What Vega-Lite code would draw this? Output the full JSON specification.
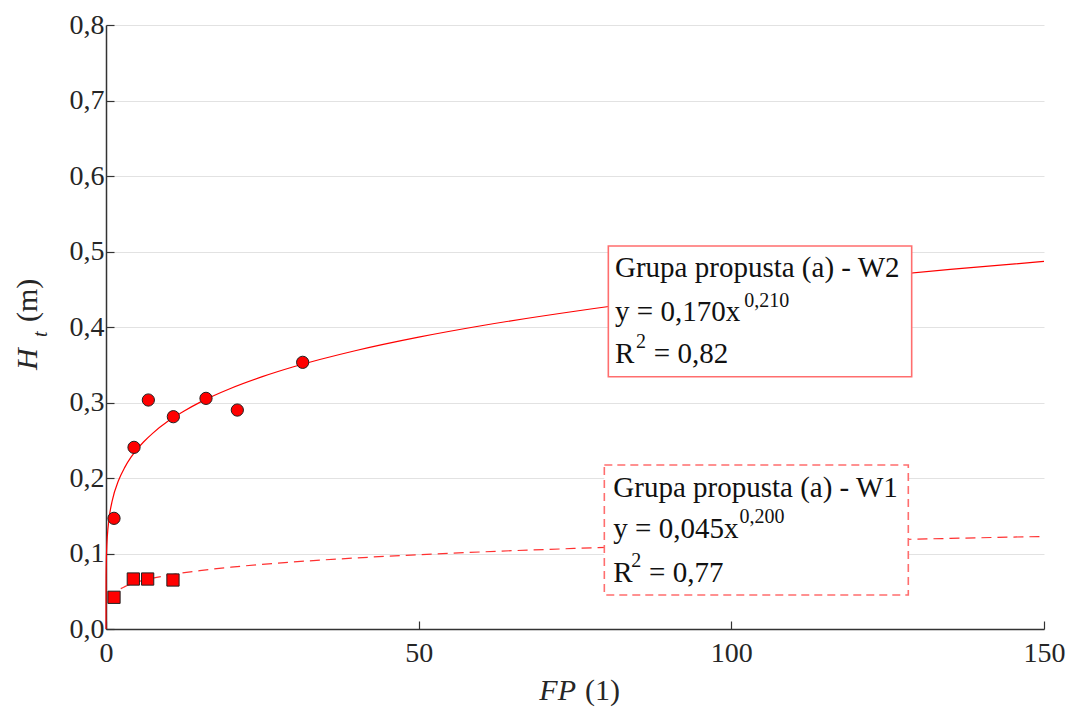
{
  "$schema": "https://vega.github.io/schema/vega-lite/v6.json",
  "autosize": {"type": "none"},
  "padding": {"left": 106, "top": 25, "right": 23, "bottom": 78},
  "width": 938,
  "height": 604,
  "background": "white",
  "config": {
    "view": {"stroke": null},
    "font": "Liberation Serif, Times New Roman, serif",
    "text": {"font": "Liberation Serif, Times New Roman, serif"},
    "axis": {
      "labelFont": "Liberation Serif, Times New Roman, serif",
      "labelFontSize": 28,
      "labelColor": "#262626",
      "labelFlush": false,
      "domainColor": "#333333",
      "domainWidth": 1.5,
      "tickColor": "#333333",
      "tickWidth": 1.2,
      "tickSize": -8,
      "title": null
    }
  },
  "datasets": {
    "points": [
      {"FP": 1.28, "H": 0.1466, "series": "W2"},
      {"FP": 4.48, "H": 0.2406, "series": "W2"},
      {"FP": 6.77, "H": 0.3033, "series": "W2"},
      {"FP": 10.77, "H": 0.2812, "series": "W2"},
      {"FP": 15.99, "H": 0.3055, "series": "W2"},
      {"FP": 21.0, "H": 0.290, "series": "W2"},
      {"FP": 31.45, "H": 0.3532, "series": "W2"},
      {"FP": 1.28, "H": 0.042, "series": "W1"},
      {"FP": 4.37, "H": 0.0662, "series": "W1"},
      {"FP": 6.66, "H": 0.0662, "series": "W1"},
      {"FP": 10.71, "H": 0.0649, "series": "W1"}
    ],
    "fits": [
      {"FP": 0, "H": 0, "series": "W2"},
      {"FP": 0.001, "H": 0.0398, "series": "W2"},
      {"FP": 0.01, "H": 0.0646, "series": "W2"},
      {"FP": 0.05, "H": 0.0906, "series": "W2"},
      {"FP": 0.1, "H": 0.1048, "series": "W2"},
      {"FP": 0.2, "H": 0.1212, "series": "W2"},
      {"FP": 0.5, "H": 0.1470, "series": "W2"},
      {"FP": 1, "H": 0.1700, "series": "W2"},
      {"FP": 2, "H": 0.1966, "series": "W2"},
      {"FP": 3, "H": 0.2141, "series": "W2"},
      {"FP": 4, "H": 0.2276, "series": "W2"},
      {"FP": 5, "H": 0.2384, "series": "W2"},
      {"FP": 6, "H": 0.2477, "series": "W2"},
      {"FP": 7.5, "H": 0.2595, "series": "W2"},
      {"FP": 10, "H": 0.2757, "series": "W2"},
      {"FP": 12.5, "H": 0.2888, "series": "W2"},
      {"FP": 15, "H": 0.3002, "series": "W2"},
      {"FP": 20, "H": 0.3189, "series": "W2"},
      {"FP": 25, "H": 0.3342, "series": "W2"},
      {"FP": 30, "H": 0.3473, "series": "W2"},
      {"FP": 40, "H": 0.3689, "series": "W2"},
      {"FP": 50, "H": 0.3866, "series": "W2"},
      {"FP": 60, "H": 0.4017, "series": "W2"},
      {"FP": 75, "H": 0.4209, "series": "W2"},
      {"FP": 90, "H": 0.4374, "series": "W2"},
      {"FP": 105, "H": 0.4517, "series": "W2"},
      {"FP": 120, "H": 0.4646, "series": "W2"},
      {"FP": 135, "H": 0.4762, "series": "W2"},
      {"FP": 150, "H": 0.4869, "series": "W2"},
      {"FP": 0.5, "H": 0.0392, "series": "W1"},
      {"FP": 1, "H": 0.0450, "series": "W1"},
      {"FP": 2, "H": 0.0517, "series": "W1"},
      {"FP": 3, "H": 0.0561, "series": "W1"},
      {"FP": 5, "H": 0.0621, "series": "W1"},
      {"FP": 7.5, "H": 0.0673, "series": "W1"},
      {"FP": 10, "H": 0.0713, "series": "W1"},
      {"FP": 15, "H": 0.0773, "series": "W1"},
      {"FP": 20, "H": 0.0819, "series": "W1"},
      {"FP": 30, "H": 0.0888, "series": "W1"},
      {"FP": 40, "H": 0.0941, "series": "W1"},
      {"FP": 50, "H": 0.0984, "series": "W1"},
      {"FP": 60, "H": 0.1021, "series": "W1"},
      {"FP": 75, "H": 0.1067, "series": "W1"},
      {"FP": 90, "H": 0.1107, "series": "W1"},
      {"FP": 105, "H": 0.1141, "series": "W1"},
      {"FP": 120, "H": 0.1172, "series": "W1"},
      {"FP": 135, "H": 0.1200, "series": "W1"},
      {"FP": 150, "H": 0.1226, "series": "W1"}
    ],
    "boxes": [
      {"x": 80.33, "x2": 128.84, "y": 0.5073, "y2": 0.3342, "series": "W2"},
      {"x": 79.69, "x2": 128.30, "y": 0.2172, "y2": 0.0450, "series": "W1"}
    ],
    "notes": [
      {"x": 81.40, "y": 0.4662, "text": "Grupa propusta (a) - W2", "role": "main"},
      {"x": 81.40, "y": 0.4079, "text": "y = 0,170x", "role": "main"},
      {"x": 81.40, "y": 0.3523, "text": "R", "role": "main"},
      {"x": 87.60, "y": 0.3523, "text": "= 0,82", "role": "main"},
      {"x": 81.13, "y": 0.1752, "text": "Grupa propusta (a) - W1", "role": "main"},
      {"x": 81.13, "y": 0.1205, "text": "y = 0,045x", "role": "main"},
      {"x": 81.13, "y": 0.0626, "text": "R", "role": "main"},
      {"x": 86.85, "y": 0.0626, "text": "= 0,77", "role": "main"},
      {"x": 102.05, "y": 0.4265, "text": "0,210", "role": "sup"},
      {"x": 84.75, "y": 0.3722, "text": "2", "role": "sup"},
      {"x": 101.30, "y": 0.1404, "text": "0,200", "role": "sup"},
      {"x": 84.00, "y": 0.0825, "text": "2", "role": "sup"}
    ],
    "titles": [
      {"x": 75.16, "y": -0.094, "text": "FP", "role": "xital"},
      {"x": 76.61, "y": -0.094, "text": "(1)", "role": "xnorm"},
      {"x": -11.03, "y": 0.343, "text": "H", "role": "yital"},
      {"x": -9.43, "y": 0.3868, "text": "t", "role": "ysub"},
      {"x": -11.03, "y": 0.4066, "text": "(m)", "role": "ynorm"}
    ]
  },
  "layer": [
    {
      "data": {"name": "fits"},
      "transform": [{"filter": "datum.series === 'W2'"}],
      "mark": {"type": "line", "color": "#ff0000", "strokeWidth": 1.2, "interpolate": "monotone"},
      "encoding": {
        "x": {"field": "FP", "type": "quantitative", "scale": {"domain": [0, 150], "nice": false},
          "axis": {"values": [0, 50, 100, 150], "grid": false, "labelPadding": 18}},
        "y": {"field": "H", "type": "quantitative", "scale": {"domain": [0, 0.8], "nice": false},
          "axis": {"values": [0, 0.1, 0.2, 0.3, 0.4, 0.5, 0.6, 0.7, 0.8], "grid": true, "gridColor": "#e2e2e2", "gridWidth": 1,
            "labelPadding": 10, "labelExpr": "replace(format(datum.value, '.1f'), '.', ',')"}},
        "order": {"field": "FP", "type": "quantitative"}
      }
    },
    {
      "data": {"name": "fits"},
      "transform": [{"filter": "datum.series === 'W1'"}],
      "mark": {"type": "line", "color": "#ff3030", "strokeWidth": 1.2, "strokeDash": [10, 6], "interpolate": "monotone"},
      "encoding": {
        "x": {"field": "FP", "type": "quantitative"},
        "y": {"field": "H", "type": "quantitative"},
        "order": {"field": "FP", "type": "quantitative"}
      }
    },
    {
      "data": {"name": "points"},
      "transform": [{"filter": "datum.series === 'W2'"}],
      "mark": {"type": "point", "shape": "circle", "filled": true, "fill": "#ff0000", "stroke": "#222222", "strokeWidth": 1, "opacity": 1, "size": 150},
      "encoding": {
        "x": {"field": "FP", "type": "quantitative"},
        "y": {"field": "H", "type": "quantitative"}
      }
    },
    {
      "data": {"name": "points"},
      "transform": [{"filter": "datum.series === 'W1'"}],
      "mark": {"type": "point", "shape": "square", "filled": true, "fill": "#ff0000", "stroke": "#222222", "strokeWidth": 1, "opacity": 1, "size": 150},
      "encoding": {
        "x": {"field": "FP", "type": "quantitative"},
        "y": {"field": "H", "type": "quantitative"}
      }
    },
    {
      "data": {"name": "boxes"},
      "transform": [{"filter": "datum.series === 'W2'"}],
      "mark": {"type": "rect", "fill": "white", "stroke": "#ff6e6e", "strokeWidth": 1.6},
      "encoding": {
        "x": {"field": "x", "type": "quantitative"},
        "x2": {"field": "x2"},
        "y": {"field": "y", "type": "quantitative"},
        "y2": {"field": "y2"}
      }
    },
    {
      "data": {"name": "boxes"},
      "transform": [{"filter": "datum.series === 'W1'"}],
      "mark": {"type": "rect", "fill": "white", "stroke": "#ff6e6e", "strokeWidth": 1.6, "strokeDash": [8, 5]},
      "encoding": {
        "x": {"field": "x", "type": "quantitative"},
        "x2": {"field": "x2"},
        "y": {"field": "y", "type": "quantitative"},
        "y2": {"field": "y2"}
      }
    },
    {
      "data": {"name": "notes"},
      "transform": [{"filter": "datum.role === 'main'"}],
      "mark": {"type": "text", "align": "left", "baseline": "alphabetic", "font": "Liberation Serif, Times New Roman, serif", "fontSize": 29, "color": "#111111"},
      "encoding": {
        "x": {"field": "x", "type": "quantitative"},
        "y": {"field": "y", "type": "quantitative"},
        "text": {"field": "text"}
      }
    },
    {
      "data": {"name": "notes"},
      "transform": [{"filter": "datum.role === 'sup'"}],
      "mark": {"type": "text", "align": "left", "baseline": "alphabetic", "font": "Liberation Serif, Times New Roman, serif", "fontSize": 20, "color": "#111111"},
      "encoding": {
        "x": {"field": "x", "type": "quantitative"},
        "y": {"field": "y", "type": "quantitative"},
        "text": {"field": "text"}
      }
    },
    {
      "data": {"name": "titles"},
      "transform": [{"filter": "datum.role === 'xital'"}],
      "mark": {"type": "text", "align": "right", "baseline": "alphabetic", "font": "Liberation Serif, Times New Roman, serif", "fontStyle": "italic", "fontSize": 30, "color": "#262626"},
      "encoding": {
        "x": {"field": "x", "type": "quantitative"},
        "y": {"field": "y", "type": "quantitative"},
        "text": {"field": "text"}
      }
    },
    {
      "data": {"name": "titles"},
      "transform": [{"filter": "datum.role === 'xnorm'"}],
      "mark": {"type": "text", "align": "left", "baseline": "alphabetic", "font": "Liberation Serif, Times New Roman, serif", "fontSize": 30, "color": "#262626"},
      "encoding": {
        "x": {"field": "x", "type": "quantitative"},
        "y": {"field": "y", "type": "quantitative"},
        "text": {"field": "text"}
      }
    },
    {
      "data": {"name": "titles"},
      "transform": [{"filter": "datum.role === 'yital'"}],
      "mark": {"type": "text", "align": "left", "baseline": "alphabetic", "angle": 270, "font": "Liberation Serif, Times New Roman, serif", "fontStyle": "italic", "fontSize": 30, "color": "#262626"},
      "encoding": {
        "x": {"field": "x", "type": "quantitative"},
        "y": {"field": "y", "type": "quantitative"},
        "text": {"field": "text"}
      }
    },
    {
      "data": {"name": "titles"},
      "transform": [{"filter": "datum.role === 'ysub'"}],
      "mark": {"type": "text", "align": "left", "baseline": "alphabetic", "angle": 270, "font": "Liberation Serif, Times New Roman, serif", "fontStyle": "italic", "fontSize": 20, "color": "#262626"},
      "encoding": {
        "x": {"field": "x", "type": "quantitative"},
        "y": {"field": "y", "type": "quantitative"},
        "text": {"field": "text"}
      }
    },
    {
      "data": {"name": "titles"},
      "transform": [{"filter": "datum.role === 'ynorm'"}],
      "mark": {"type": "text", "align": "left", "baseline": "alphabetic", "angle": 270, "font": "Liberation Serif, Times New Roman, serif", "fontSize": 30, "color": "#262626"},
      "encoding": {
        "x": {"field": "x", "type": "quantitative"},
        "y": {"field": "y", "type": "quantitative"},
        "text": {"field": "text"}
      }
    }
  ]
}
